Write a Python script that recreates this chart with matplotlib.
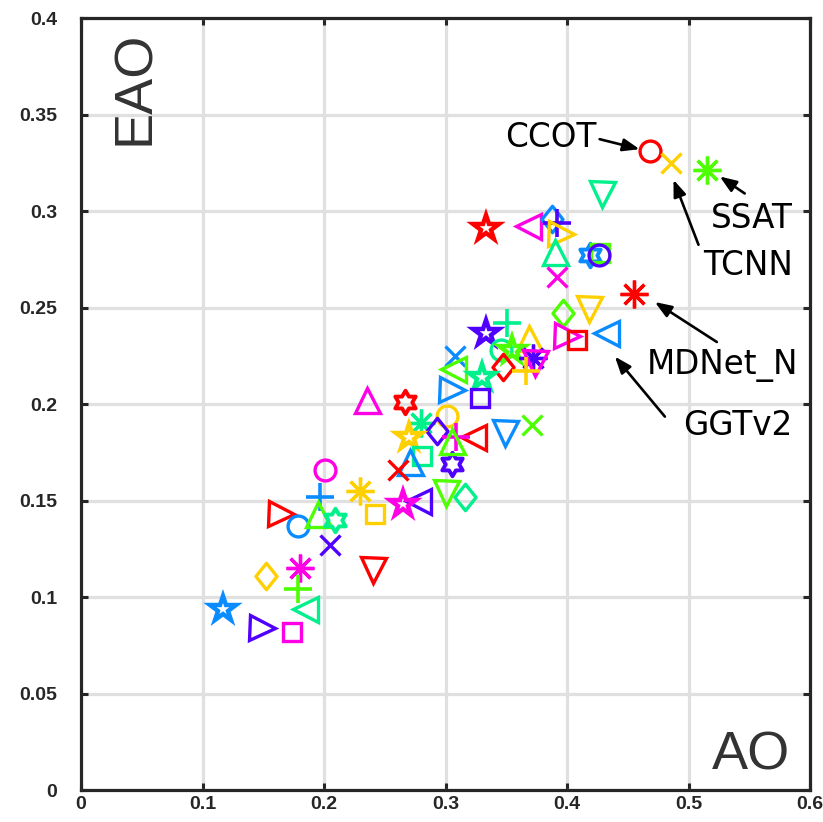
import numpy as np
import matplotlib
matplotlib.use("Agg")
import matplotlib.pyplot as plt
from matplotlib.path import Path
from matplotlib.markers import MarkerStyle
from matplotlib import font_manager

# ---- data: tracker accuracy overlap (AO) vs expected average overlap (EAO)
ao = [0.468, 0.486, 0.515, 0.429, 0.333, 0.368, 0.388, 0.392, 0.395, 0.390,
      0.419, 0.427, 0.426, 0.392, 0.455, 0.397, 0.418, 0.400, 0.408, 0.432,
      0.351, 0.333, 0.369, 0.346, 0.355, 0.372, 0.374, 0.347, 0.366, 0.308,
      0.306, 0.330, 0.305, 0.328, 0.235, 0.267, 0.301, 0.280, 0.293, 0.349,
      0.371, 0.323, 0.309, 0.270, 0.281, 0.271, 0.261, 0.305, 0.300, 0.316,
      0.277, 0.265, 0.201, 0.197, 0.230, 0.242, 0.165, 0.179, 0.195, 0.209,
      0.205, 0.240, 0.152, 0.180, 0.179, 0.184, 0.117, 0.149, 0.174, 0.305]
eao = [0.331, 0.325, 0.321, 0.309, 0.291, 0.292, 0.296, 0.294, 0.288, 0.279,
       0.277, 0.278, 0.277, 0.266, 0.257, 0.247, 0.249, 0.235, 0.233, 0.237,
       0.242, 0.237, 0.234, 0.228, 0.228, 0.224, 0.221, 0.219, 0.217, 0.225,
       0.218, 0.214, 0.207, 0.203, 0.202, 0.201, 0.194, 0.190, 0.186, 0.185,
       0.189, 0.183, 0.183, 0.183, 0.173, 0.170, 0.166, 0.169, 0.154, 0.152,
       0.150, 0.148, 0.166, 0.152, 0.155, 0.143, 0.143, 0.137, 0.143, 0.140,
       0.127, 0.114, 0.111, 0.115, 0.104, 0.094, 0.094, 0.084, 0.082, 0.181]
symbols = ['o', 'x', '*', 'v', 'p', '<', 'd', '+', '>', '^',
           'h', 's', 'o', 'x', '*', 'd', 'v', '>', 's', '<',
           '+', 'p', '^', 'o', 'p', '*', 'v', 'd', '+', 'x',
           '<', 'p', '>', 's', '^', 'h', 'o', '*', 'd', 'v',
           'x', '<', '+', 'p', 's', '^', 'x', 'h', 'v', 'd',
           '<', 'p', 'o', '+', '*', 's', '>', 'o', '^', 'h',
           'x', 'v', 'd', '*', '+', '<', 'p', '>', 's', '^']
colors = ['red', 'gold', 'green', 'spring', 'red', 'magenta', 'blue', 'purple', 'gold', 'spring',
          'blue', 'green', 'purple', 'magenta', 'red', 'green', 'gold', 'magenta', 'red', 'blue',
          'spring', 'purple', 'gold', 'spring', 'green', 'purple', 'magenta', 'red', 'gold', 'blue',
          'green', 'spring', 'blue', 'purple', 'magenta', 'red', 'gold', 'spring', 'purple', 'blue',
          'green', 'red', 'magenta', 'gold', 'spring', 'blue', 'red', 'purple', 'green', 'spring',
          'purple', 'magenta', 'magenta', 'blue', 'gold', 'gold', 'red', 'blue', 'green', 'spring',
          'purple', 'red', 'gold', 'magenta', 'green', 'spring', 'blue', 'purple', 'magenta', 'green']

# labelled trackers: index into the arrays above
labels = {0: 'CCOT', 1: 'TCNN', 2: 'SSAT', 14: 'MDNet_N', 19: 'GGTv2'}

x_ticks = [0, 0.1, 0.2, 0.3, 0.4, 0.5, 0.6]
x_ticklabels = ['0', '0.1', '0.2', '0.3', '0.4', '0.5', '0.6']
y_ticks = [0, 0.05, 0.1, 0.15, 0.2, 0.25, 0.3, 0.35, 0.4]
y_ticklabels = ['0', '0.05', '0.1', '0.15', '0.2', '0.25', '0.3', '0.35', '0.4']

# ---- styles
palette = {
    'red': '#FF0000', 'gold': '#FFD000', 'green': '#4DFF00', 'spring': '#00F08C',
    'blue': '#0A8CFF', 'purple': '#5000FF', 'magenta': '#FF00E6',
}

def hexagram_path():
    ang = np.deg2rad(90 + np.arange(12) * 30)
    rad = np.where(np.arange(12) % 2 == 0, 1.0, 1.0 / np.sqrt(3))
    verts = np.column_stack([rad * np.cos(ang), rad * np.sin(ang)])
    verts = np.vstack([verts, verts[:1]])
    codes = [Path.MOVETO] + [Path.LINETO] * 11 + [Path.CLOSEPOLY]
    return Path(verts, codes)

diamond = Path([(0, 1), (0.8, 0), (0, -1), (-0.8, 0), (0, 1)],
               [Path.MOVETO, Path.LINETO, Path.LINETO, Path.LINETO, Path.CLOSEPOLY])

# symbol -> (matplotlib marker, size in points, edge width in points)
marker_spec = {
    'o': ('o', 15, 2.4), 'x': ('x', 15, 2.4), '*': ((8, 2, 0), 20, 2.4),
    's': ('s', 13, 2.4), 'd': (diamond, 19, 2.4), '^': ('^', 18, 2.4),
    'v': ('v', 18, 2.4), '>': ('>', 18, 2.4), '<': ('<', 18, 2.4),
    'p': (MarkerStyle('*', joinstyle='miter'), 19, 3.2),
    'h': (MarkerStyle(hexagram_path(), joinstyle='miter'), 17, 2.8),
    '+': ('+', 20, 2.6),
}

available = {f.name for f in font_manager.fontManager.ttflist}
tick_font = 'Liberation Sans' if 'Liberation Sans' in available else 'DejaVu Sans'

W, H, DPI = 823, 822, 100
fig = plt.figure(figsize=(W / DPI, H / DPI), dpi=DPI)
ax = fig.add_axes([81 / W, 1 - 790 / H, 729 / W, 772 / H])

ax.set_xlim(0, 0.6)
ax.set_ylim(0, 0.4)
ax.set_axisbelow(True)
ax.grid(True, color='#E0E0E0', linewidth=2.3)

for xi, yi, sym, col in zip(ao, eao, symbols, colors):
    m, ms, mew = marker_spec[sym]
    ax.plot([xi], [yi], linestyle='none', marker=m, markersize=ms,
            markerfacecolor='none', markeredgecolor=palette[col],
            markeredgewidth=mew, clip_on=False, zorder=3)

# axes frame and ticks
for sp in ax.spines.values():
    sp.set_linewidth(2.3)
    sp.set_color('#262626')
ax.tick_params(direction='in', length=5, width=2.2, color='#262626',
               top=True, right=True)
ax.set_xticks(x_ticks)
ax.set_xticklabels(x_ticklabels, fontfamily=tick_font, fontweight='bold',
                   fontsize=14, color='#262626')
ax.set_yticks(y_ticks)
ax.set_yticklabels(y_ticklabels, fontfamily=tick_font, fontweight='bold',
                   fontsize=14, color='#262626')
ax.tick_params(axis='x', pad=4)
ax.tick_params(axis='y', pad=17)

# axis names drawn inside the plotting area
ax.text(0.040, 0.983, 'EAO', transform=ax.transAxes, rotation=90,
        ha='left', va='top', fontsize=39, fontfamily=tick_font, color='#333333')
ax.text(0.973, 0.026, 'AO', transform=ax.transAxes, ha='right',
        va='baseline', fontsize=39, fontfamily=tick_font, color='#333333')

# tracker callouts: text anchor, arrow tail and arrow head as pixel offsets
callouts = {
    0: dict(ha='right', text=(-53, 4), tail=(-50, 12), head=(-10, 2)),
    1: dict(ha='right', text=(122, -112), tail=(27, -82), head=(2, -17)),
    2: dict(ha='right', text=(86, -58), tail=(38, -23), head=(13, -6)),
    14: dict(ha='right', text=(164, -80), tail=(83, -48), head=(21, -8)),
    19: dict(ha='right', text=(186, -102), tail=(59, -84), head=(9, -24)),
}
for idx, name in labels.items():
    c = callouts[idx]
    pt = (ao[idx], eao[idx])
    ax.annotate(name, xy=pt, xytext=c['text'], textcoords='offset pixels',
                ha=c['ha'], va='baseline', fontsize=23.5, color='black',
                fontfamily='DejaVu Sans', annotation_clip=False)
    head = ax.transData.transform(pt) + np.array(c['head'])
    tail = ax.transData.transform(pt) + np.array(c['tail'])
    ax.annotate('', xy=tuple(head), xycoords='figure pixels',
                xytext=tuple(tail), textcoords='figure pixels',
                arrowprops=dict(arrowstyle='-|>,head_length=1.0,head_width=0.38',
                                color='black', lw=1.9, shrinkA=0, shrinkB=0))

fig.savefig('out.png', dpi=DPI)
